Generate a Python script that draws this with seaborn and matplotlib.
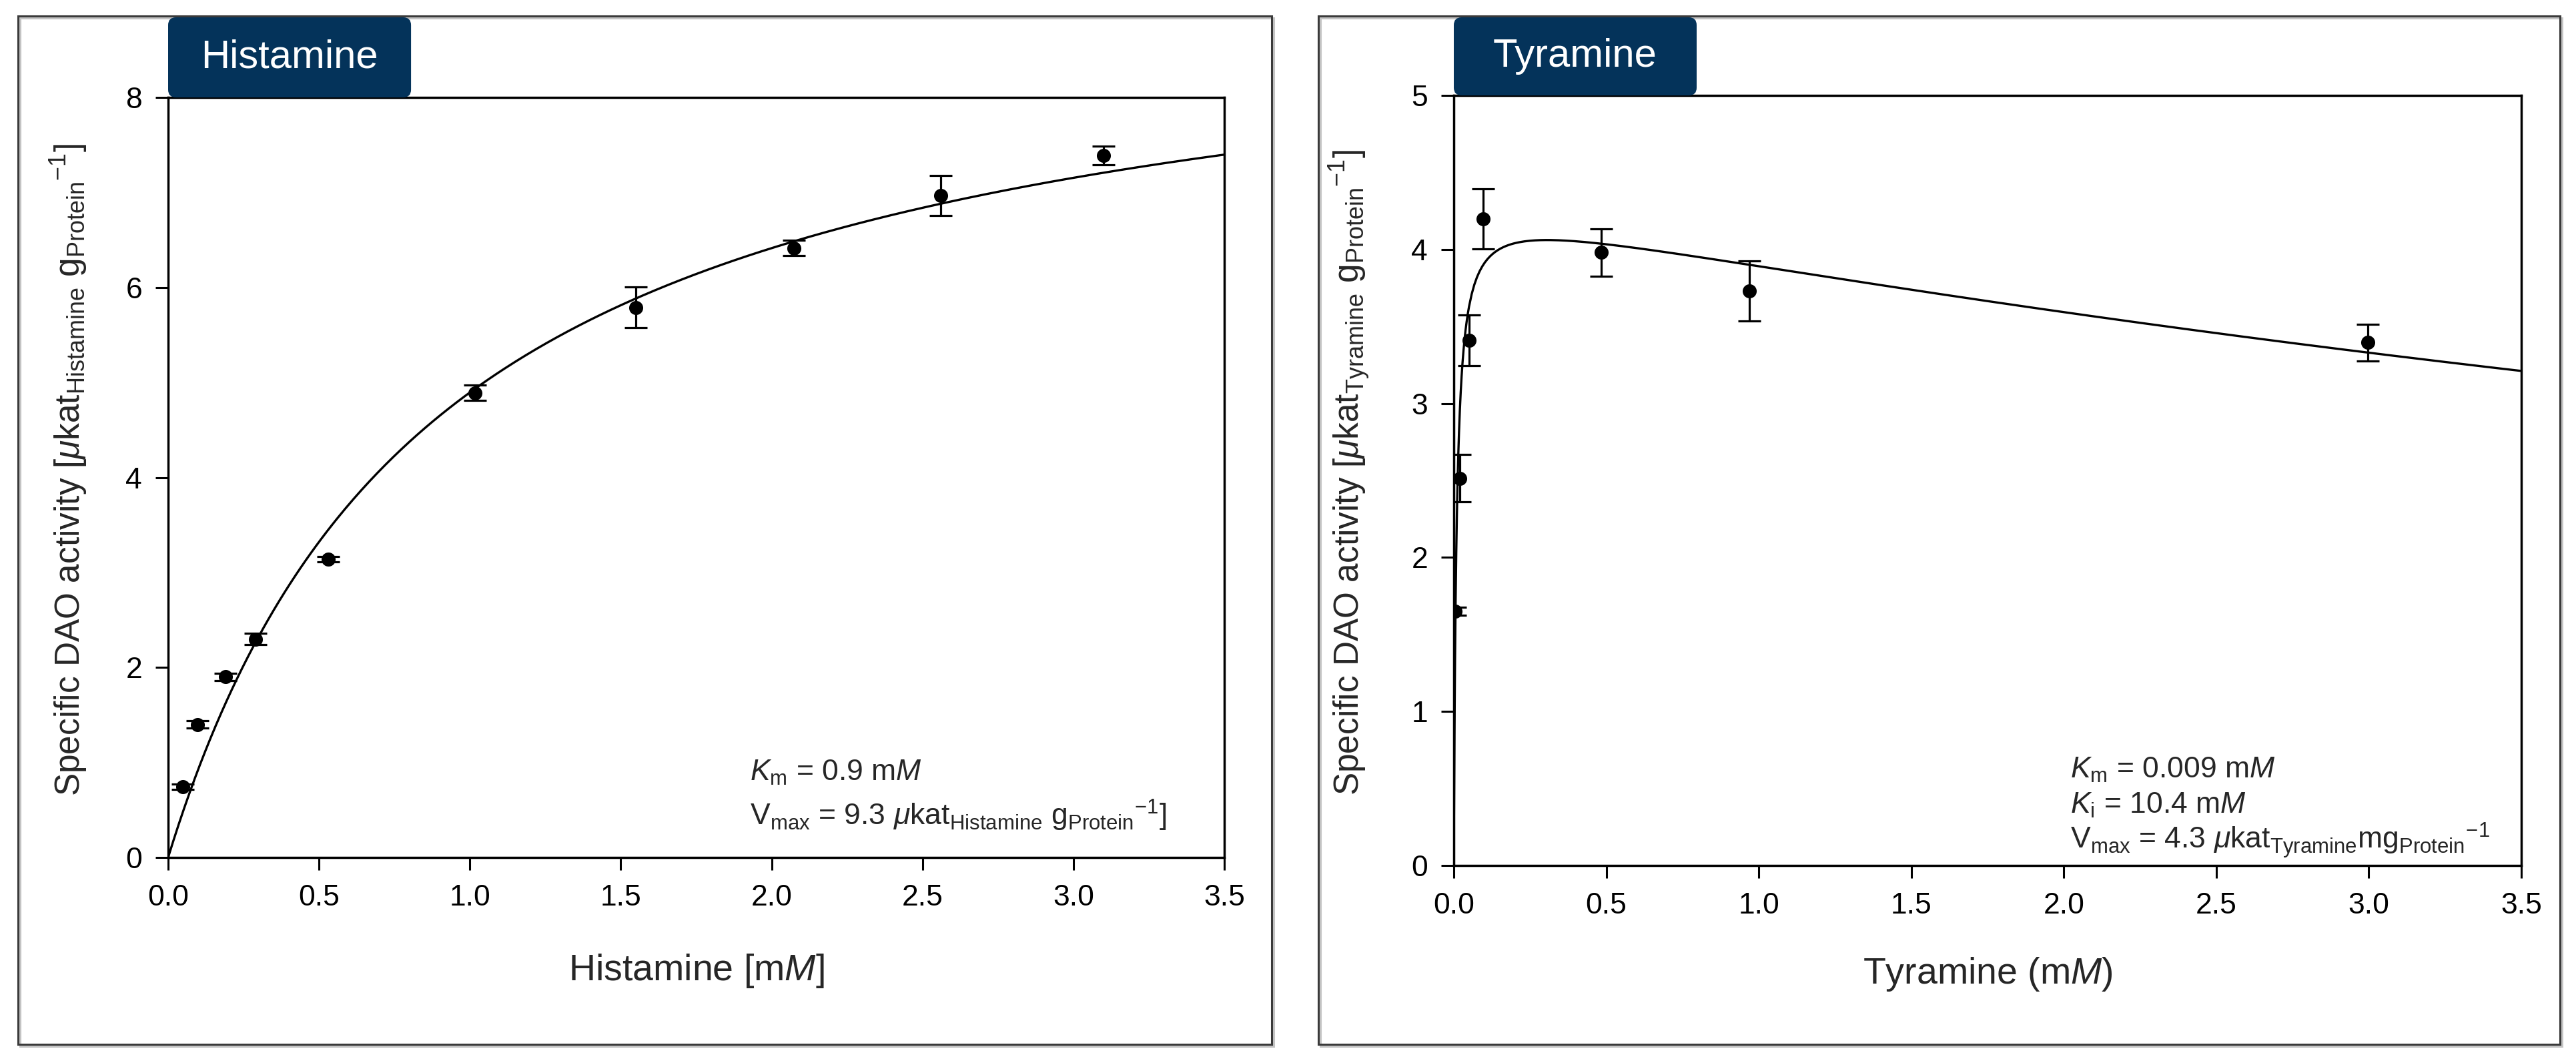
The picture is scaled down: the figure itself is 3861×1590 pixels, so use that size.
import numpy as np
import matplotlib.pyplot as plt
import seaborn as sns
from matplotlib.patches import Rectangle, FancyBboxPatch
from matplotlib.ticker import FormatStrFormatter

# histamine data (mM, µkat g-1) with SD
his_x = [0.049, 0.098, 0.19, 0.29, 0.53, 1.017, 1.55, 2.075, 2.56, 3.10]
his_y = [0.745, 1.40, 1.90, 2.30, 3.14, 4.89, 5.79, 6.415, 6.97, 7.39]
his_err = [0.03, 0.04, 0.04, 0.06, 0.03, 0.08, 0.215, 0.08, 0.21, 0.10]
his_km = 0.9
his_vmax = 9.3

# tyramine data
tyr_x = [0.005, 0.019, 0.051, 0.097, 0.484, 0.968, 2.997]
tyr_y = [1.65, 2.515, 3.41, 4.20, 3.98, 3.73, 3.395]
tyr_err = [0.025, 0.155, 0.165, 0.195, 0.155, 0.195, 0.12]
tyr_km = 0.009
tyr_ki = 10.4
tyr_vmax = 4.3

navy = '#04335a'

sns.set_style('ticks')
plt.rcParams['font.family'] = ['Liberation Sans', 'DejaVu Sans']
plt.rcParams['mathtext.fontset'] = 'custom'
plt.rcParams['mathtext.rm'] = 'Liberation Sans'
plt.rcParams['mathtext.it'] = 'Liberation Sans:italic'
plt.rcParams['mathtext.bf'] = 'Liberation Sans:bold'
plt.rcParams['mathtext.sf'] = 'Liberation Sans'

W, H = 3862, 1590
fig = plt.figure(figsize=(W / 100, H / 100), dpi=100)

# panel frames
for x0, x1 in [(27, 1906), (1976, 3837)]:
    fig.add_artist(Rectangle(((x0 + 3) / W, 1 - 1568 / H), (x1 - x0) / W, 1541 / H,
                             transform=fig.transFigure, fill=False, ec='#c4c4c4', lw=2.2))
    fig.add_artist(Rectangle((x0 / W, 1 - 1565 / H), (x1 - x0) / W, 1541 / H,
                             transform=fig.transFigure, fill=False, ec='#3a3a3a', lw=2.2))

ax1 = fig.add_axes([252 / W, 1 - 1285 / H, 1583 / W, 1139 / H])
ax2 = fig.add_axes([2179 / W, 1 - 1297 / H, 1600 / W, 1154 / H])


def style_axes(ax, ymax, ystep):
    ax.set_xlim(0, 3.5)
    ax.set_ylim(0, ymax)
    ax.set_xticks(np.arange(0, 3.51, 0.5))
    ax.set_yticks(np.arange(0, ymax + 0.1, ystep))
    ax.xaxis.set_major_formatter(FormatStrFormatter('%.1f'))
    for s in ax.spines.values():
        s.set_visible(True)
        s.set_linewidth(2.5)
        s.set_color('black')
    ax.tick_params(direction='out', length=14, width=2.2, labelsize=32,
                   top=False, right=False, colors='black')
    ax.tick_params(axis='x', pad=15)
    ax.tick_params(axis='y', pad=14)


def draw_points(ax, x, y, err):
    ax.errorbar(x, y, yerr=err, fmt='none', ecolor='black', elinewidth=2.3,
                capsize=12, capthick=2.3, zorder=4)
    sns.scatterplot(x=x, y=y, ax=ax, color='black', s=230, edgecolor='black',
                    linewidth=0, zorder=5, legend=False)


def add_tag(ax, text, frac):
    pos = ax.get_position()
    bx, by = pos.x0, pos.y1
    bw, bh = pos.width * frac, (1 - 26 / H) - pos.y1
    fig.add_artist(FancyBboxPatch((bx, by), bw, bh,
                                  boxstyle='round,pad=0,rounding_size=0.003',
                                  mutation_aspect=W / H, transform=fig.transFigure,
                                  fc=navy, ec='none', zorder=1))
    fig.text(bx + bw / 2, by + bh / 2, text, color='white', fontsize=43,
             ha='center', va='center', zorder=2)


# histamine: Michaelis-Menten fit
s1 = np.linspace(0, 3.5, 400)
v1 = his_vmax * s1 / (his_km + s1)
sns.lineplot(x=s1, y=v1, ax=ax1, color='black', lw=2.4, estimator=None, sort=False)
draw_points(ax1, his_x, his_y, his_err)
style_axes(ax1, 8, 2)
ax1.set_xlabel(r'Histamine [m$M$]', fontsize=40)
ax1.set_ylabel(r'Specific DAO activity [$\mu$kat$_{\mathrm{Histamine}}$ g$_{\mathrm{Protein}}$$^{-1}$]',
               fontsize=37)
ax1.xaxis.set_label_coords(0.5, -0.125)
ax1.yaxis.set_label_coords(-0.0745, 0.51)
ax1.text(0.551, 0.101, r'$K_{\mathrm{m}}$ = ' + f'{his_km}' + r' m$M$',
         transform=ax1.transAxes, fontsize=32, va='baseline')
ax1.text(0.551, 0.042, r'V$_{\mathrm{max}}$ = ' + f'{his_vmax}' +
         r' $\mu$kat$_{\mathrm{Histamine}}$ g$_{\mathrm{Protein}}$$^{-1}$]',
         transform=ax1.transAxes, fontsize=32, va='baseline')
add_tag(ax1, 'Histamine', 0.23)

# tyramine: substrate inhibition fit
s2 = np.concatenate([np.geomspace(0.0007, 0.05, 200), np.linspace(0.05, 3.5, 400)[1:]])
v2 = tyr_vmax * s2 / (tyr_km + s2 + s2 ** 2 / tyr_ki)
sns.lineplot(x=s2, y=v2, ax=ax2, color='black', lw=2.4, estimator=None, sort=False)
draw_points(ax2, tyr_x, tyr_y, tyr_err)
style_axes(ax2, 5, 1)
ax2.set_xlabel(r'Tyramine (m$M$)', fontsize=40)
ax2.set_ylabel(r'Specific DAO activity [$\mu$kat$_{\mathrm{Tyramine}}$ g$_{\mathrm{Protein}}$$^{-1}$]',
               fontsize=37)
ax2.xaxis.set_label_coords(0.5, -0.117)
ax2.yaxis.set_label_coords(-0.076, 0.51)
ax2.text(0.5775, 0.114, r'$K_{\mathrm{m}}$ = ' + f'{tyr_km}' + r' m$M$',
         transform=ax2.transAxes, fontsize=32, va='baseline')
ax2.text(0.5775, 0.068, r'$K_{\mathrm{i}}$ = ' + f'{tyr_ki}' + r' m$M$',
         transform=ax2.transAxes, fontsize=32, va='baseline')
ax2.text(0.5775, 0.022, r'V$_{\mathrm{max}}$ = ' + f'{tyr_vmax}' +
         r' $\mu$kat$_{\mathrm{Tyramine}}$mg$_{\mathrm{Protein}}$$^{-1}$',
         transform=ax2.transAxes, fontsize=32, va='baseline')
add_tag(ax2, 'Tyramine', 0.2275)

fig.savefig('out.png', dpi=100)
